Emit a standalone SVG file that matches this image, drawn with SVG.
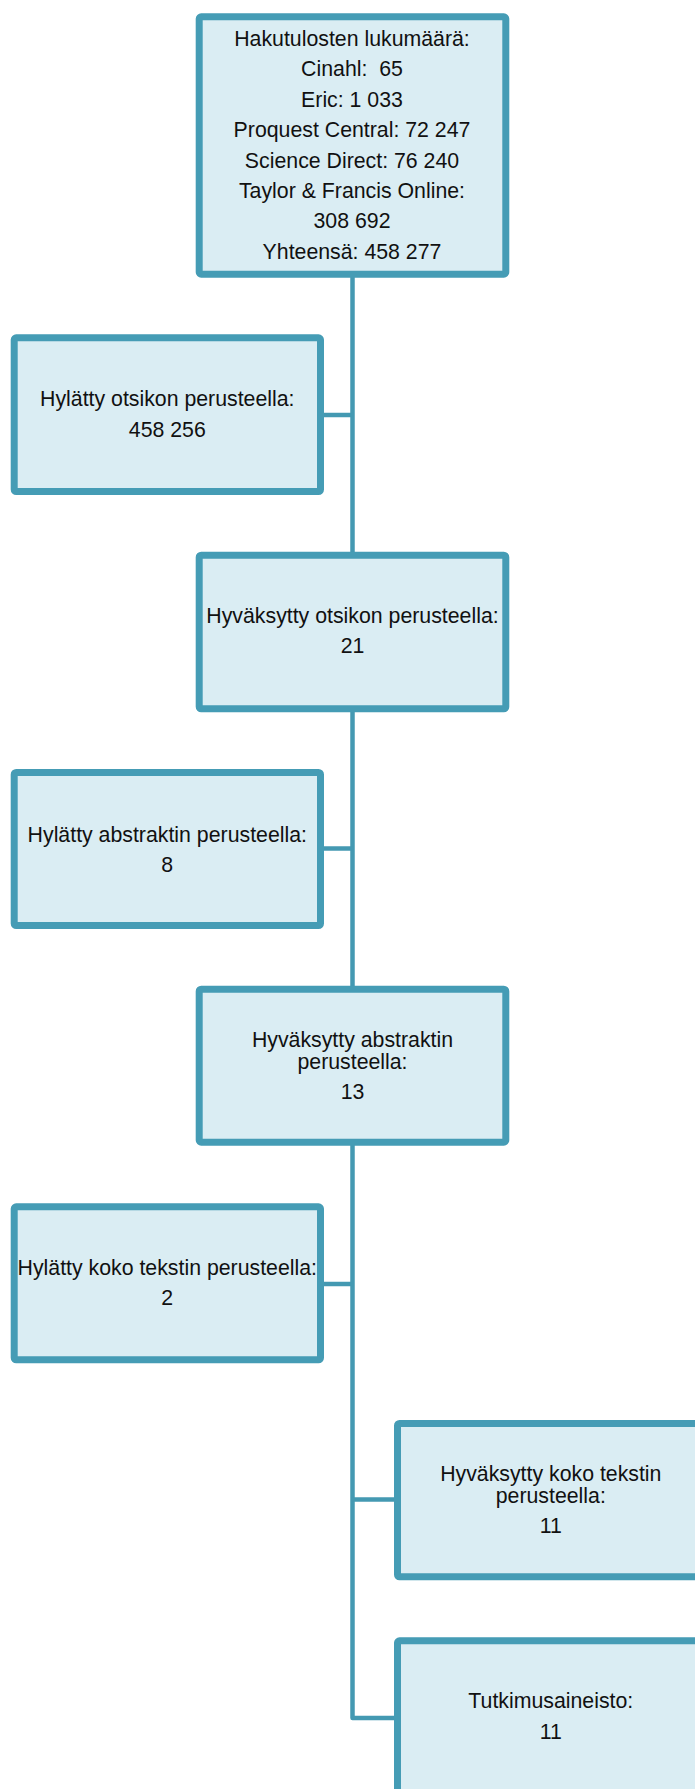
<svg xmlns="http://www.w3.org/2000/svg" width="695" height="1789" viewBox="0 0 695 1789">
<style>
.box{fill:#daedf3;stroke:#459cb5;stroke-width:7}
.conn{fill:none;stroke:#4499b2;stroke-width:4.5;stroke-linejoin:round}
text{font-family:"Liberation Sans",Arial,sans-serif;font-size:21.3px;fill:#111;text-anchor:middle;white-space:pre}
</style>
<rect width="695" height="1789" fill="#ffffff"/>
<g id="connectors">
<path class="conn" d="M352.5,277 V1718 H394"/>
<path class="conn" d="M324,415 H352.5"/>
<path class="conn" d="M324,848.5 H352.5"/>
<path class="conn" d="M324,1284 H352.5"/>
<path class="conn" d="M352.5,1499.5 H394"/>
</g>
<g id="n1">
<rect class="box" x="199.2" y="16.8" width="306.6" height="257.4" rx="2"/>
<text x="352" y="45.7">Hakutulosten lukumäärä:</text>
<text x="352" y="76.2" xml:space="preserve">Cinahl:  65</text>
<text x="352" y="106.5">Eric: 1 033</text>
<text x="352" y="136.8">Proquest Central: 72 247</text>
<text x="352" y="167.5">Science Direct: 76 240</text>
<text x="352" y="197.8">Taylor &amp; Francis Online:</text>
<text x="352" y="228.3">308 692</text>
<text x="352" y="259.2">Yhteensä: 458 277</text>
</g>
<g id="n2">
<rect class="box" x="14.2" y="337.8" width="306.3" height="153.7" rx="2"/>
<text x="167.3" y="406">Hylätty otsikon perusteella:</text>
<text x="167.3" y="436.7">458 256</text>
</g>
<g id="n3">
<rect class="box" x="199.2" y="555.2" width="306.6" height="153.6" rx="2"/>
<text x="352.5" y="623.3">Hyväksytty otsikon perusteella:</text>
<text x="352.5" y="653.3">21</text>
</g>
<g id="n4">
<rect class="box" x="14.2" y="772.5" width="306.3" height="153" rx="2"/>
<text x="167.3" y="841.7">Hylätty abstraktin perusteella:</text>
<text x="167.3" y="871.7">8</text>
</g>
<g id="n5">
<rect class="box" x="199.2" y="989.2" width="306.6" height="153" rx="2"/>
<text x="352.5" y="1046.7">Hyväksytty abstraktin</text>
<text x="352.5" y="1069.3">perusteella:</text>
<text x="352.5" y="1099">13</text>
</g>
<g id="n6">
<rect class="box" x="14.2" y="1206.8" width="306.3" height="153" rx="2"/>
<text x="167.3" y="1275">Hylätty koko tekstin perusteella:</text>
<text x="167.3" y="1305">2</text>
</g>
<g id="n7">
<rect class="box" x="397.5" y="1423.5" width="306.6" height="153.3" rx="2"/>
<text x="550.8" y="1481">Hyväksytty koko tekstin</text>
<text x="550.8" y="1503.3">perusteella:</text>
<text x="550.8" y="1533.3">11</text>
</g>
<g id="n8">
<rect class="box" x="397.5" y="1640.8" width="306.6" height="153" rx="2"/>
<text x="550.8" y="1708.3">Tutkimusaineisto:</text>
<text x="550.8" y="1739">11</text>
</g>
</svg>
